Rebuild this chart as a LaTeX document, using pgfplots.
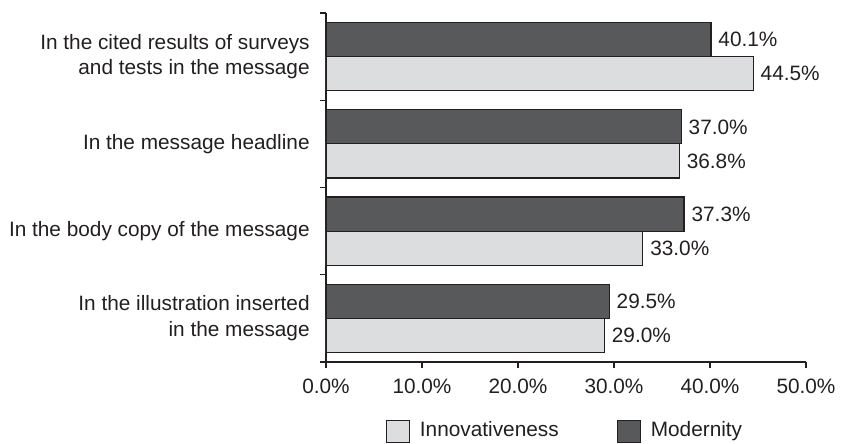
\documentclass[border=0pt]{standalone}
\usepackage{fontspec}
\setmainfont{Liberation Sans}
\usepackage{pgfplots}
\pgfplotsset{compat=1.18}
\usetikzlibrary{calc}

\definecolor{darkbar}{HTML}{58595B}
\definecolor{lightbar}{HTML}{DCDDDE}
\definecolor{ink}{HTML}{231F20}

\begin{document}
\fontsize{10.4}{13}\selectfont
\begin{tikzpicture}[font=\fontsize{10.4}{13}\selectfont, text=ink]
\begin{axis}[
    name=ax,
    scale only axis,
    width=240pt, height=174.5pt,
    xbar, bar width=0.39,
    xmin=0, xmax=50,
    ymin=-0.5, ymax=3.5,
    axis lines*=left,
    axis line style={ink, line width=0.6pt},
    tick style={ink, line width=0.6pt},
    tick align=outside,
    major tick length=3pt,
    xtick={0,10,20,30,40,50},
    xticklabels={0.0\%,10.0\%,20.0\%,30.0\%,40.0\%,50.0\%},
    ytick={0,1,2,3},
    yticklabels={{In the illustration inserted\\in the message},
                 {In the body copy of the message},
                 {In the message headline},
                 {In the cited results of surveys\\and tests in the message}},
    yticklabel style={align=right, xshift=-1.5pt},
    ytick style={draw=none},
    extra y ticks={-0.5,0.5,1.5,2.5,3.5},
    extra y tick labels={},
    extra y tick style={ytick style={draw=ink, line width=0.6pt}, major tick length=3pt},
    xticklabel style={yshift=-2pt},
    nodes near coords={\pgfmathprintnumber[fixed,fixed zerofill,precision=1,assume math mode=true]{\pgfplotspointmeta}\%},
    nodes near coords align={horizontal},
    legend columns=2,
    legend style={draw=none, at={(0.5,-34.5pt)}, anchor=center,
        /tikz/every even column/.append style={column sep=27pt},
        cells={anchor=west}},
    legend image code/.code={\draw[#1, line width=0.5pt] (0pt,-5.5pt) rectangle (11.5pt,5.5pt);
        \path (14.5pt,0pt);},
]
\addplot[fill=lightbar, draw=ink, line width=0.6pt, bar shift=-0.195] coordinates {
    (29.0,0) (33.0,1) (36.8,2) (44.5,3)
};
\addlegendentry{Innovativeness}
\addplot[fill=darkbar, draw=ink, line width=0.6pt, bar shift=0.195] coordinates {
    (29.5,0) (37.3,1) (37.0,2) (40.1,3)
};
\addlegendentry{Modernity}
\end{axis}
\pgfresetboundingbox
\path ($(ax.south west)+(-163pt,-41pt)$) rectangle ($(ax.north east)+(23pt,6.5pt)$);
\end{tikzpicture}
\end{document}
